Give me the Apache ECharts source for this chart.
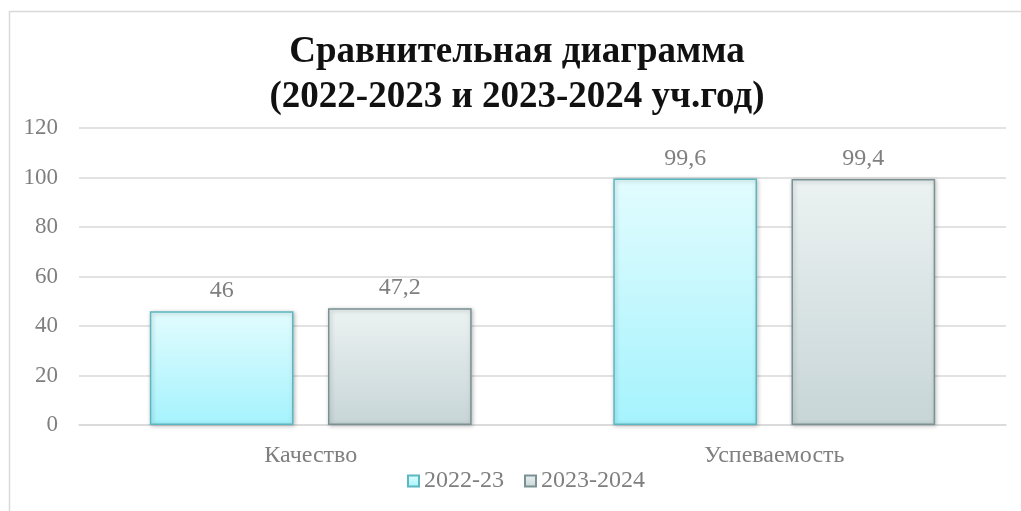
<!DOCTYPE html>
<html>
<head>
<meta charset="utf-8">
<script src="https://cdn.jsdelivr.net/npm/echarts@6/dist/echarts.min.js"></script>
<style>
  html, body { margin: 0; padding: 0; background: #fff; }
  #chart { width: 1021px; height: 511px; }
</style>
</head>
<body>
<div id="chart"></div>
<script>
// data
const categories = ["Качество", "Успеваемость"];
const seriesNames = ["2022-23", "2023-2024"];
const values2022 = [46, 99.6];
const values2023 = [47.2, 99.4];
const yTicks = [0, 20, 40, 60, 80, 100, 120];

const chart = echarts.init(document.getElementById("chart"));
const serif = "Liberation Serif";

function grad(top, bottom) {
  return new echarts.graphic.LinearGradient(0, 0, 0, 1, [
    { offset: 0, color: top },
    { offset: 1, color: bottom }
  ]);
}

const labelFmt = (p) => String(p.value).replace(".", ",");

const option = {
  backgroundColor: "#fff",
  animation: false,
  graphic: [{
    type: "rect",
    shape: { x: 9.5, y: 11.5, width: 1100, height: 600 },
    style: { fill: "none", stroke: "#d9d9d9", lineWidth: 1.5 },
    silent: true
  }],
  title: {
    text: "Сравнительная диаграмма\n(2022-2023 и 2023-2024 уч.год)",
    left: 512,
    top: 25,
    textAlign: "center",
    textStyle: {
      fontFamily: serif,
      fontWeight: "bold",
      fontSize: 37,
      lineHeight: 45,
      color: "#111"
    }
  },
  legend: {
    bottom: 13,
    left: 402,
    itemWidth: 11,
    itemHeight: 11,
    itemGap: 20,
    icon: "rect",
    textStyle: { fontFamily: serif, fontSize: 24, color: "#7f7f7f", padding: [0, 0, 0, 0] },
    data: seriesNames
  },
  grid: { left: 79, right: 15, top: 128, bottom: 86 },
  xAxis: {
    type: "category",
    data: categories,
    axisLine: { lineStyle: { color: "#d9d9d9", width: 1.5 } },
    axisTick: { show: false },
    axisLabel: { fontFamily: serif, fontSize: 24, color: "#7f7f7f", margin: 19 }
  },
  yAxis: {
    type: "value",
    min: yTicks[0],
    max: yTicks[yTicks.length - 1],
    interval: 20,
    axisLine: { show: false },
    axisTick: { show: false },
    splitLine: { lineStyle: { color: "#d9d9d9", width: 1.5 } },
    axisLabel: { fontFamily: serif, fontSize: 23, color: "#7f7f7f", margin: 21 }
  },
  series: [
    {
      name: seriesNames[0],
      type: "bar",
      data: values2022,
      barWidth: "31%",
      barGap: "24%",
      itemStyle: {
        color: grad("#e2fcfe", "#a5f3fd"),
        borderColor: "#5bb8c0",
        borderWidth: 1.5,
        shadowColor: "rgba(0,0,0,0.25)",
        shadowBlur: 4,
        shadowOffsetX: 1,
        shadowOffsetY: 1
      },
      label: {
        show: true,
        position: "top",
        distance: 8,
        formatter: labelFmt,
        fontFamily: serif,
        fontSize: 24,
        color: "#7f7f7f"
      }
    },
    {
      name: seriesNames[1],
      type: "bar",
      data: values2023,
      barWidth: "31%",
      itemStyle: {
        color: grad("#ecf2f2", "#c7d5d7"),
        borderColor: "#7a9294",
        borderWidth: 1.5,
        shadowColor: "rgba(0,0,0,0.25)",
        shadowBlur: 4,
        shadowOffsetX: 1,
        shadowOffsetY: 1
      },
      label: {
        show: true,
        position: "top",
        distance: 8,
        formatter: labelFmt,
        fontFamily: serif,
        fontSize: 24,
        color: "#7f7f7f"
      }
    }
  ]
};

chart.setOption(option);
</script>
</body>
</html>
